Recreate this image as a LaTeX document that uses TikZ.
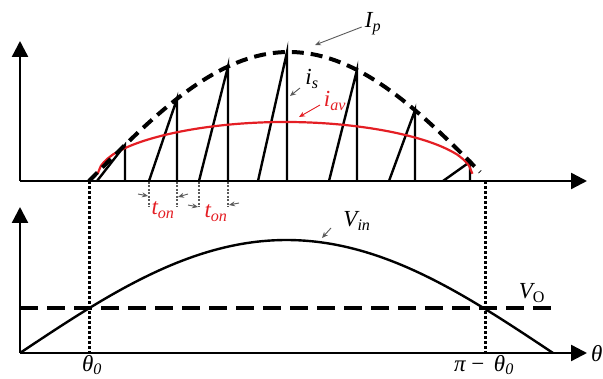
\documentclass[tikz,border=0pt]{standalone}
\usepackage{fontspec}
\setmainfont{Liberation Serif}
\usetikzlibrary{arrows.meta}
\definecolor{curvered}{RGB}{228,30,36}
\definecolor{lblgray}{RGB}{90,90,90}
\begin{document}
\begin{tikzpicture}[x=1pt,y=-1pt,
  axis/.style={line width=2.4pt,-{Triangle[width=16pt,length=16pt]}},
  envelope/.style={line width=4pt,dash pattern=on 12pt off 7pt},
  sawline/.style={line width=2.4pt},
  avgline/.style={curvered,line width=2.2pt},
  vinline/.style={line width=2.4pt},
  voline/.style={line width=3.4pt,dash pattern=on 18pt off 9pt},
  guide/.style={line width=3pt,dash pattern=on 3pt off 2pt},
  tguide/.style={line width=1.6pt,dash pattern=on 2pt off 1.5pt,lblgray},
  pointer/.style={lblgray,line width=0.9pt,-{Stealth[length=6pt,width=5pt]}},
  redpointer/.style={curvered,line width=0.9pt,-{Stealth[length=6pt,width=5pt]}},
  lbl/.style={font=\fontsize{23}{26}\selectfont\itshape,inner sep=0pt},
  redlbl/.style={lbl,text=curvered}]
\useasboundingbox (0,0) rectangle (603,379);
% ---------- top plot ----------
\coordinate (to) at (20,181);
\coordinate (tytip) at (20,41);
\coordinate (txtip) at (587,181);
\draw[axis] (to) -- (tytip);
\draw[axis] (to) -- (txtip);
% sawtooth current
\foreach \a/\b in {97/125,149/177,199/228,258/287,329/357,389/415,443/470}{
  \draw[sawline] (\a,181) -- (\b,{181-129*sin((\b-89)/400*180)}) -- (\b,181);
}
% average current
\draw[avgline] plot[domain=0.3:179.7,samples=120] ({97+\x/180*376},{181-59*pow(sin(\x),0.4)});
% envelope
\draw[envelope] plot[domain=0:176,samples=80] ({89+\x/180*400},{181-129*sin(\x)});
% labels top
\node[lbl] (ip) at (373,24) {I\textsubscript{\itshape p}};
\coordinate (ipend) at (315,45);
\draw[pointer] (ip.west) ++(-3,3) -- (ipend);
\node[lbl] (is) at (312,79) {i\textsubscript{\itshape s}};
\coordinate (isend) at (290,96);
\draw[pointer] (300,88) -- (isend);
\node[redlbl] (iav) at (335,101) {i\textsubscript{\itshape av}};
\coordinate (iavend) at (299,117);
\draw[redpointer] (320,105) -- (iavend);
% t_on markers
\foreach \x in {149,177,199,228}{ \draw[tguide] (\x,182) -- (\x,207); }
\draw[pointer] (138,194) -- (148,196);
\draw[pointer] (188,194) -- (178,197);
\draw[pointer] (188,205) -- (198,207);
\draw[pointer] (239,203) -- (229,205);
\node[redlbl] (ton1) at (163,210) {t\textsubscript{\itshape on}};
\node[redlbl] (ton2) at (216,213) {t\textsubscript{\itshape on}};
% ---------- bottom plot ----------
\coordinate (bo) at (20,353);
\coordinate (bytip) at (20,207);
\coordinate (bxtip) at (587,353);
\draw[axis] (bo) -- (bytip);
\draw[axis] (bo) -- (bxtip);
\draw[vinline] plot[domain=0:180,samples=100] ({20+\x/180*533},{353-113*sin(\x)});
\coordinate (vos) at (20,308);
\coordinate (voe) at (556,308);
\draw[voline] (vos) -- (voe);
% guides
\coordinate (g1t) at (89,181);
\coordinate (g1b) at (89,353);
\coordinate (g2t) at (485,181);
\coordinate (g2b) at (485,353);
\draw[guide] (g1t) -- (g1b);
\draw[guide] (g2t) -- (g2b);
% labels bottom
\node[lbl] (vin) at (357,221) {V\textsubscript{\itshape in}};
\coordinate (vinend) at (322,238);
\draw[pointer] (331,228) -- (vinend);
\node[lbl] (vo) at (532,293) {V\textsubscript{\upshape O}};
\node[lbl] (th0) at (92,365) {θ\textsubscript{0}};
\node[lbl] (pth0) at (484,365) {π \upshape−\, \itshape θ\textsubscript{0}};
\node[lbl,anchor=west] (th) at (591,354) {θ};
\end{tikzpicture}
\end{document}
